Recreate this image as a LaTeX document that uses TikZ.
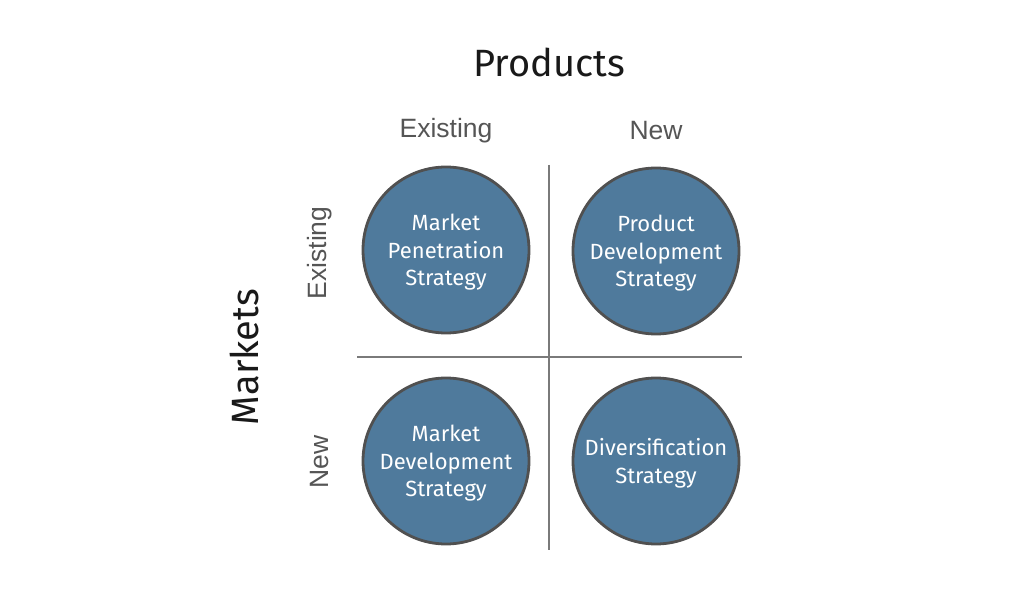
\documentclass[tikz,border=0pt]{standalone}
\usepackage{fontspec}
\setmainfont{Fira Sans}
\newfontfamily\labfont{Liberation Sans}
\begin{document}
\begin{tikzpicture}[x=1pt,y=-1pt,
  quad/.style={circle,draw=circ,line width=2.8pt,fill=blueq,minimum size=166pt,inner sep=0pt,
    text=white,font=\fontsize{22}{27.5}\selectfont,align=center},
  qtext/.style={quad,draw=none,fill=none,minimum size=0pt},
  axislab/.style={text=labgray,font=\labfont\fontsize{26.5}{30}\selectfont},
  title/.style={text=black!90,font=\fontsize{38}{42}\selectfont},
  divider/.style={draw=linegray,line width=1.5pt}]
\definecolor{blueq}{HTML}{4F7A9C}
\definecolor{circ}{HTML}{505050}
\definecolor{labgray}{HTML}{555555}
\definecolor{linegray}{HTML}{7A7A7A}
\useasboundingbox (0,0) rectangle (1025,601);
\fill[white] (0,0) rectangle (1025,601);
\coordinate (vt) at (549,165);
\coordinate (vb) at (549,550);
\coordinate (hl) at (357,357);
\coordinate (hr) at (742,357);
\draw[divider] (vt) -- (vb);
\draw[divider] (hl) -- (hr);
\node[quad] (mp) at (446,250) {};
\node[quad] (pd) at (656,251) {};
\node[quad] (md) at (446,461) {};
\node[quad] (dv) at (656,461) {};
\node[qtext] (mpt) at ([yshift=-2.5pt]mp.center) {Market\\Penetration\\Strategy};
\node[qtext] (pdt) at ([yshift=-2.5pt]pd.center) {Product\\Development\\Strategy};
\node[qtext] (mdt) at ([yshift=-2.5pt]md.center) {Market\\Development\\Strategy};
\node[qtext] (dvt) at ([yshift=-2.5pt]dv.center) {Diversification\\Strategy};
\node[title] (prod) at (549,62) {Products};
\node[title,rotate=90] (mkt) at (244,357) {Markets};
\node[axislab] (pe) at (446,131) {Existing};
\node[axislab] (pn) at (656,131) {New};
\node[axislab,rotate=90] (me) at (320,253) {Existing};
\node[axislab,rotate=90] (mn) at (320,462) {New};
\end{tikzpicture}
\end{document}
